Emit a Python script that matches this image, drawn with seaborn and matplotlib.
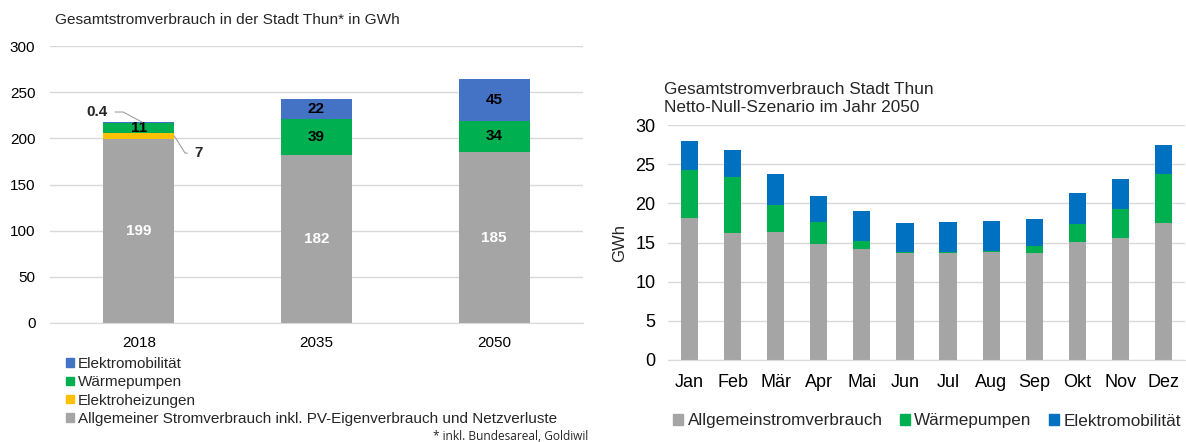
import numpy as np
import pandas as pd
import seaborn as sns
import matplotlib.pyplot as plt
from matplotlib.patches import Patch

# Left chart: annual consumption in GWh
years = ['2018', '2035', '2050']
allgemein = [199, 182, 185]
elektroheizung = [7, 0, 0]
waermepumpen = [11, 39, 34]
emobil = [0.4, 22, 45]

# Right chart: monthly consumption 2050 (GWh)
months = ['Jan', 'Feb', 'Mär', 'Apr', 'Mai', 'Jun', 'Jul', 'Aug', 'Sep', 'Okt', 'Nov', 'Dez']
m_allgemein = [18.1, 16.2, 16.4, 14.8, 14.2, 13.6, 13.7, 13.8, 13.6, 15.1, 15.6, 17.5]
m_waerme = [6.1, 7.1, 3.4, 2.8, 1.0, 0.2, 0.15, 0.1, 0.9, 2.3, 3.7, 6.3]
m_emobil = [3.8, 3.5, 3.9, 3.4, 3.8, 3.7, 3.8, 3.8, 3.5, 3.9, 3.8, 3.7]

GRAY = '#A5A5A5'
GREEN = '#00B050'
YELLOW = '#FFC000'
BLUE_L = '#4472C4'
BLUE_R = '#0070C0'
GRID = '#D9D9D9'

sns.set_style('white')
plt.rcParams['font.family'] = ['Liberation Sans', 'DejaVu Sans']

W, H = 1186, 442
fig = plt.figure(figsize=(W / 100, H / 100), dpi=100)
ax1 = fig.add_axes([50 / W, (H - 323) / H, 533 / W, 277 / H])
ax2 = fig.add_axes([668 / W, (H - 360) / H, 517 / W, 235 / H])


def stacked(ax, cats, layers, colors):
    # draw cumulative totals from the top down so the stack shows through
    cum = np.cumsum(np.array(layers, dtype=float), axis=0)
    for level in range(len(layers) - 1, -1, -1):
        df = pd.DataFrame({'cat': cats, 'val': cum[level]})
        sns.barplot(data=df, x='cat', y='val', color=colors[level], width=0.4,
                    saturation=1, ax=ax, errorbar=None, linewidth=0)
    return cum


def style_axis(ax, ymax, step, fs, xpad, ypad):
    ax.set_ylim(0, ymax)
    ax.set_yticks(np.arange(0, ymax + 1, step))
    ax.grid(axis='y', color=GRID, linewidth=1)
    ax.set_axisbelow(True)
    for s in ['top', 'right', 'left']:
        ax.spines[s].set_visible(False)
    ax.spines['bottom'].set_color(GRID)
    ax.tick_params(axis='both', length=0, labelsize=fs, colors='#000000')
    ax.tick_params(axis='x', pad=xpad)
    ax.tick_params(axis='y', pad=ypad)
    ax.set_xlabel('')
    ax.set_ylabel('')


# ---- left chart
cum1 = stacked(ax1, years, [allgemein, elektroheizung, waermepumpen, emobil],
               [GRAY, YELLOW, GREEN, BLUE_L])
style_axis(ax1, 300, 50, 11, 9.5, 10.5)
ax1.set_xlim(-0.5, 2.5)

for i in range(3):
    ax1.text(i, allgemein[i] / 2, f'{allgemein[i]}', ha='center', va='center',
             color='white', fontsize=11, fontweight='bold')
    gbase = allgemein[i] + elektroheizung[i]
    ax1.text(i, gbase + waermepumpen[i] / 2, f'{waermepumpen[i]}', ha='center',
             va='center', color='black', fontsize=11, fontweight='bold')
    if i > 0:
        ax1.text(i, gbase + waermepumpen[i] + emobil[i] / 2, f'{emobil[i]:g}',
                 ha='center', va='center', color='black', fontsize=11, fontweight='bold')

# callouts for the thin 2018 segments
ax1.annotate(f'{emobil[0]:g}', xy=(0.02, cum1[3][0]), xytext=(-0.175, 228.5),
             ha='right', va='center', fontsize=11, fontweight='bold',
             arrowprops=dict(arrowstyle='-', color='#A0A0A0', lw=0.8,
                             shrinkA=3, shrinkB=0,
                             connectionstyle='angle,angleA=0,angleB=152,rad=0'))
ax1.annotate(f'{elektroheizung[0]}', xy=(0.2, 202.5), xytext=(0.315, 184),
             ha='left', va='center', fontsize=11, fontweight='bold',
             arrowprops=dict(arrowstyle='-', color='#A0A0A0', lw=0.8,
                             shrinkA=3, shrinkB=0,
                             connectionstyle='angle,angleA=0,angleB=122,rad=0'))

fig.text(55 / W, 1 - 20 / H, 'Gesamtstromverbrauch in der Stadt Thun* in GWh',
         fontsize=11.1, ha='left', va='center')

h1 = [Patch(color=BLUE_L), Patch(color=GREEN), Patch(color=YELLOW), Patch(color=GRAY)]
l1 = ['Elektromobilität', 'Wärmepumpen', 'Elektroheizungen',
      'Allgemeiner Stromverbrauch inkl. PV-Eigenverbrauch und Netzverluste']
fig.legend(h1, l1, loc='upper left', bbox_to_anchor=(66 / W, 1 - 357 / H),
           frameon=False, fontsize=11, handlelength=0.5, handleheight=0.5,
           handletextpad=0.3, labelspacing=0.28, borderaxespad=0, borderpad=0)

fig.text(588 / W, 1 - 437 / H, '* inkl. Bundesareal, Goldiwil', fontsize=8.6,
         ha='right', va='center', family=['Open Sans', 'DejaVu Sans'])

# ---- right chart
stacked(ax2, months, [m_allgemein, m_waerme, m_emobil], [GRAY, GREEN, BLUE_R])
style_axis(ax2, 30, 5, 13, 10, 9)
ax2.set_xlim(-0.5, 11.5)
ax2.set_ylabel('GWh', fontsize=12, labelpad=6)

fig.text(664 / W, 1 - 90 / H, 'Gesamtstromverbrauch Stadt Thun',
         fontsize=12.4, ha='left', va='center')
fig.text(664 / W, 1 - 107 / H, 'Netto-Null-Szenario im Jahr 2050',
         fontsize=12.4, ha='left', va='center')

h2 = [Patch(color=GRAY), Patch(color=GREEN), Patch(color=BLUE_R)]
l2 = ['Allgemeinstromverbrauch', 'Wärmepumpen', 'Elektromobilität']
fig.legend(h2, l2, loc='center', bbox_to_anchor=(927 / W, 1 - 421 / H), ncol=3,
           frameon=False, fontsize=12.3, handlelength=0.6, handleheight=0.6,
           handletextpad=0.25, columnspacing=1.0, borderaxespad=0, borderpad=0)

fig.savefig('out.png', dpi=100)
